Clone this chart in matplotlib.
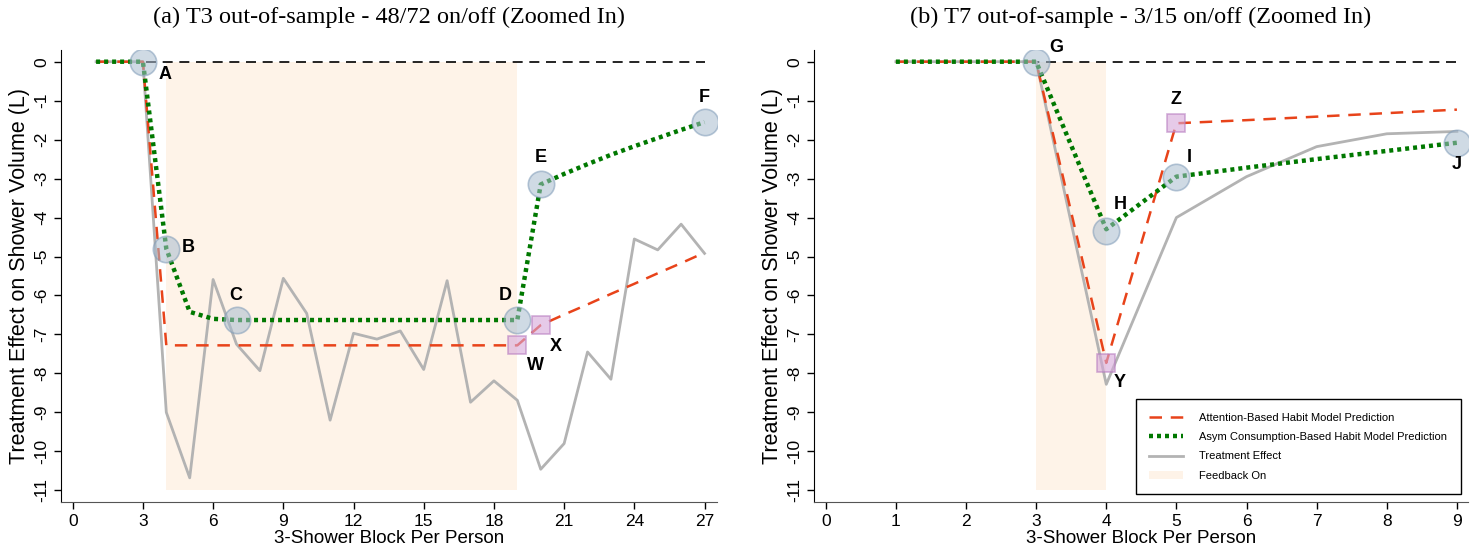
import matplotlib
matplotlib.use('Agg')
import matplotlib.pyplot as plt
from matplotlib.patches import Patch
from matplotlib.lines import Line2D

plt.rcParams['font.family'] = ['Liberation Sans', 'DejaVu Sans']

# ---- panel (a): T3 48/72 ----
a_x = list(range(1, 28))
a_attention = [0, 0, 0] + [-7.28] * 16 + [-6.76, -6.49, -6.23, -5.96, -5.7, -5.43, -5.17, -4.9]
a_asym = [0, 0, 0, -4.8, -6.42, -6.6] + [-6.63] * 13 + [-3.15, -2.88, -2.63, -2.39, -2.17, -1.96, -1.75, -1.55]
a_effect = [0, 0, 0, -9.0, -10.68, -5.59, -7.25, -7.93, -5.56, -6.46, -9.2, -6.97, -7.12, -6.91,
            -7.9, -5.62, -8.74, -8.19, -8.69, -10.46, -9.8, -7.45, -8.15, -4.55, -4.83, -4.17, -4.92]
a_feedback = (4, 19)
a_circles = {'A': (3, 0), 'B': (4, -4.8), 'C': (7, -6.63), 'D': (19, -6.63), 'E': (20, -3.15), 'F': (27, -1.55)}
a_squares = {'W': (19, -7.28), 'X': (20, -6.76)}
a_labels = {'A': (3.95, -0.33), 'B': (4.93, -4.77), 'C': (6.98, -6.0), 'D': (18.5, -6.0),
            'E': (20.0, -2.47), 'F': (27.0, -0.92), 'W': (19.76, -7.8), 'X': (20.66, -7.3)}
a_xticks = list(range(0, 28, 3))

# ---- panel (b): T7 3/15 ----
b_x = list(range(1, 10))
b_attention = [0, 0, 0, -7.73, -1.58, -1.5, -1.41, -1.32, -1.23]
b_asym = [0, 0, 0, -4.3, -2.95, -2.72, -2.5, -2.29, -2.08]
b_effect = [0, 0, 0, -8.28, -4.0, -2.95, -2.18, -1.85, -1.79]
b_feedback = (3, 4)
b_circles = {'G': (3, 0), 'H': (4, -4.35), 'I': (5, -2.95), 'J': (9, -2.09)}
b_squares = {'Y': (4, -7.73), 'Z': (5, -1.58)}
b_labels = {'G': (3.28, 0.37), 'H': (4.2, -3.67), 'I': (5.18, -2.46), 'J': (9.0, -2.64),
            'Y': (4.19, -8.24), 'Z': (4.99, -0.97)}
b_xticks = list(range(0, 10))

yticks = list(range(0, -12, -1))

RED = '#e8431a'
GREEN = '#007800'
GRAY = '#b3b3b3'
SHADE = '#fef3e8'

fig = plt.figure(figsize=(14.77, 5.52), dpi=100)
ax1 = fig.add_axes([0.0413, 0.0906, 0.4441, 0.8188])
ax2 = fig.add_axes([0.551, 0.0906, 0.443, 0.8188])


def panel(ax, x, att, asym, eff, fb, circles, squares, labels, xticks, xlim, title):
    ax.fill_between(fb, -11, 0, color=SHADE, lw=0, zorder=0)
    ax.plot([x[0], x[-1]], [0, 0], color='black', lw=1.2, ls=(0, (6, 4)), zorder=1)
    ax.plot(x, eff, color=GRAY, lw=2, zorder=2)
    ax.plot(x, att, color=RED, lw=1.8, ls=(0, (5, 3.5)), zorder=3)
    ax.plot(x, asym, color=GREEN, lw=3.2, ls=(0, (0.9, 0.9)), zorder=4)
    for k, (cx, cy) in circles.items():
        ax.plot(cx, cy, 'o', ms=19, mfc='#a8bccf', mec='#7f9bb8', mew=1.2, alpha=0.55, zorder=5)
    for k, (sx, sy) in squares.items():
        ax.plot(sx, sy, 's', ms=13, mfc='#d6a8da', mec='#b77cc0', mew=1.2, alpha=0.6, zorder=5)
    for k, (lx, ly) in labels.items():
        ax.text(lx, ly, k, fontsize=13, fontweight='bold', ha='center', va='center', zorder=6)
    ax.set_xlim(*xlim)
    ax.set_ylim(-11.3, 0.3)
    ax.set_xticks(xticks)
    ax.set_yticks(yticks)
    ax.set_yticklabels([str(v) for v in yticks], rotation=90, va='center')
    ax.tick_params(labelsize=12.5, length=5, width=1)
    ax.spines['top'].set_visible(False)
    ax.spines['right'].set_visible(False)
    ax.spines['bottom'].set_color('#555555')
    ax.set_xlabel('3-Shower Block Per Person', fontsize=13.5, labelpad=1)
    ax.set_ylabel('Treatment Effect on Shower Volume (L)', fontsize=15.5, labelpad=3)
    # title placed in figure coordinates, centred over the axes
    pos = ax.get_position()
    fig.text((pos.x0 + pos.x1) / 2, 1 - 17 / 552, title, fontsize=17.5,
             family='Liberation Serif', ha='center', va='center')


panel(ax1, a_x, a_attention, a_asym, a_effect, a_feedback, a_circles, a_squares, a_labels,
      a_xticks, (-0.5, 27.53), '(a) T3 out-of-sample - 48/72 on/off (Zoomed In)')
panel(ax2, b_x, b_attention, b_asym, b_effect, b_feedback, b_circles, b_squares, b_labels,
      b_xticks, (-0.17, 9.16), '(b) T7 out-of-sample - 3/15 on/off (Zoomed In)')

handles = [
    Line2D([], [], color=RED, lw=1.8, ls=(0, (5, 3.5))),
    Line2D([], [], color=GREEN, lw=3.2, ls=(0, (0.9, 0.9))),
    Line2D([], [], color=GRAY, lw=2),
    Patch(facecolor=SHADE, edgecolor='none'),
]
names = ['Attention-Based Habit Model Prediction', 'Asym Consumption-Based Habit Model Prediction',
         'Treatment Effect', 'Feedback On']
leg = ax2.legend(handles, names, loc='lower right', bbox_to_anchor=(0.997, 0.005), fontsize=8,
                 frameon=True, fancybox=False, edgecolor='black', framealpha=1,
                 handlelength=3, borderpad=1.2, labelspacing=0.85, handletextpad=1.5)
leg.get_frame().set_linewidth(1)

fig.savefig('out.png', dpi=100)
